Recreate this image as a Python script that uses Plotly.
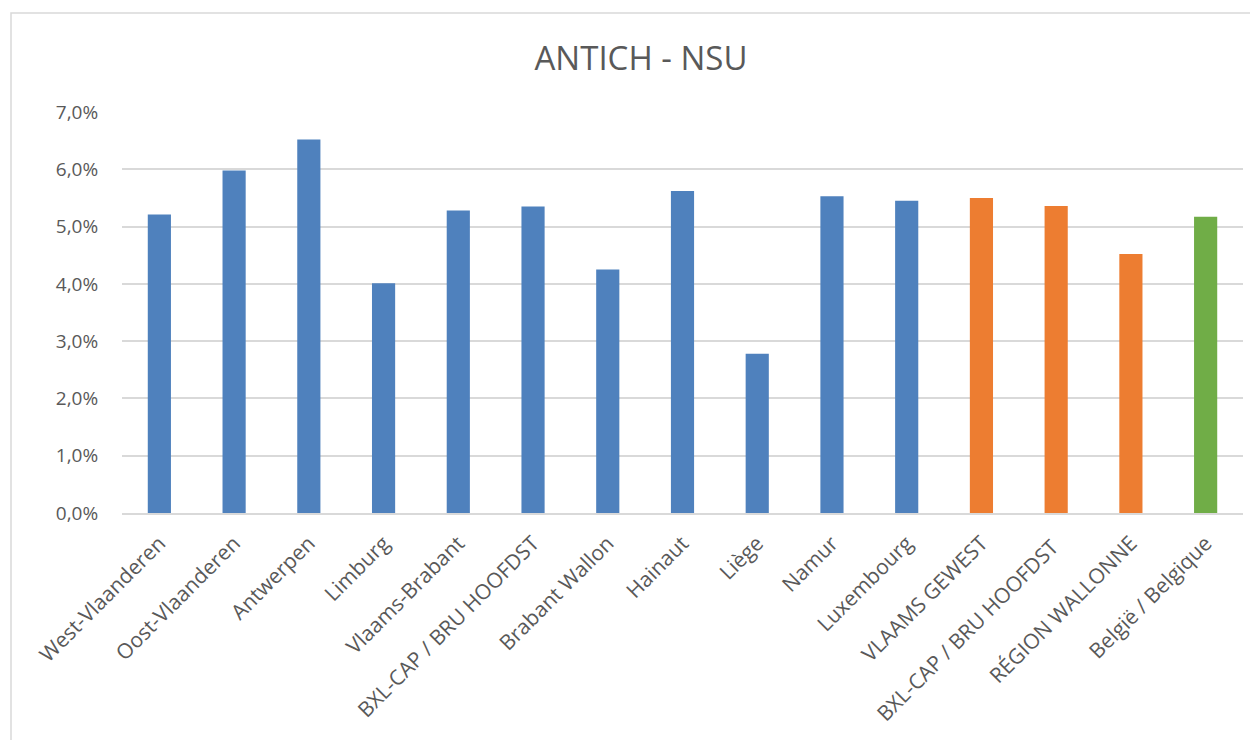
import plotly.graph_objects as go

categories = [
    "West-Vlaanderen", "Oost-Vlaanderen", "Antwerpen", "Limburg", "Vlaams-Brabant",
    "BXL-CAP / BRU HOOFDST", "Brabant Wallon", "Hainaut", "Liège", "Namur",
    "Luxembourg", "VLAAMS GEWEST", "BXL-CAP / BRU HOOFDST ", "RÉGION WALLONNE",
    "België / Belgique",
]
values = [0.0521, 0.0598, 0.0652, 0.0401, 0.0528, 0.0535, 0.0425, 0.0562, 0.0278,
          0.0553, 0.0545, 0.0550, 0.0536, 0.0452, 0.0517]
levels = ["province"] * 11 + ["region"] * 3 + ["country"]
y_ticks = [0, 0.01, 0.02, 0.03, 0.04, 0.05, 0.06, 0.07]

level_colors = {"province": "#4F81BD", "region": "#ED7D31", "country": "#70AD47"}

# page has an 8px body margin; figure is sized so that the plot lands where the reference has it
OFF = 8
W, H = 1258 - OFF, 740 - OFF
L, T = 122 - OFF, 112 - OFF
R = W - (1243 - OFF)
B = H - (513 - OFF)
pw, ph = W - L - R, H - T - B

fig = go.Figure(go.Bar(
    x=categories, y=values,
    marker=dict(color=[level_colors[l] for l in levels], line=dict(width=0)),
    width=0.31,
))

font_fam = "Open Sans, Lato, sans-serif"
fig.update_layout(
    width=W, height=H,
    margin=dict(l=L, r=R, t=T, b=B),
    paper_bgcolor="white", plot_bgcolor="white",
    separators=", ",
    showlegend=False,
    title=dict(text="ANTICH - NSU", x=(641 - OFF) / W, xanchor="center", xref="container",
               y=1 - (58 - OFF) / H, yanchor="middle",
               font=dict(family=font_fam, size=33, color="#595959")),
    font=dict(family=font_fam, color="#595959"),
)
fig.update_yaxes(
    range=[0, 0.07], tickvals=y_ticks, tickformat=".1%",
    showgrid=True, gridcolor="#D9D9D9", gridwidth=1.5,
    zeroline=False, showline=False,
    ticks="outside", ticklen=19, tickcolor="rgba(0,0,0,0)",
    tickfont=dict(size=19, color="#595959"),
)
fig.update_xaxes(
    tickangle=-45, showgrid=False,
    showline=True, linecolor="#D9D9D9", linewidth=1.5,
    ticks="outside", ticklen=8, tickcolor="rgba(0,0,0,0)",
    tickfont=dict(size=21, color="#595959"),
)

# chart frame (extends beyond the visible page on right and bottom)
x0 = (11 - OFF - L) / pw
y1 = (H - B - (13 - OFF)) / ph
fig.add_shape(type="rect", xref="paper", yref="paper",
              x0=x0, x1=(W + 20 - L) / pw, y0=-(B + 20) / ph, y1=y1,
              line=dict(color="#D9D9D9", width=1.5), fillcolor="rgba(0,0,0,0)", layer="below")

fig.write_html("out.html")
